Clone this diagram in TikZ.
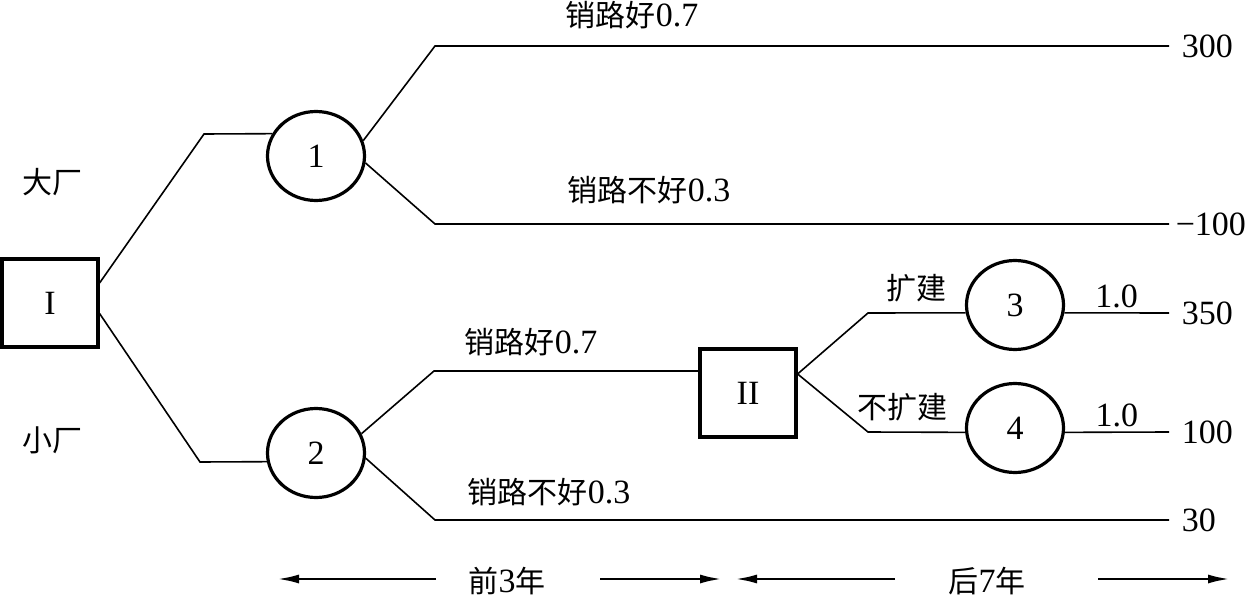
\documentclass[tikz,border=0pt]{standalone}
\usepackage{fontspec}
\setmainfont{Liberation Serif}
\newfontfamily\cjk{Noto Sans CJK SC}
\newcommand{\zh}[1]{{\cjk\fontsize{15}{18}\selectfont #1}}
\usetikzlibrary{
    arrows.meta,
    positioning,
    shapes.geometric
}

\begin{document}
\begin{tikzpicture}[
x=0.5pt, y=-0.5pt,
line width=0.8pt,
font=\fontsize{17}{20}\selectfont,
decision/.style={
draw,
line width=1.6pt,
minimum width=48pt,
minimum height=44pt,
inner sep=0pt
},
chance/.style={
draw,
ellipse,
line width=1.6pt,
minimum width=48.5pt,
minimum height=44.5pt,
inner sep=0pt
},
val/.style={
anchor=west,
inner sep=6pt
},
lbl/.style={
inner sep=2pt
},
span/.style={
-{Latex[length=11pt,width=4.5pt]},
line width=1.3pt
}
]
\useasboundingbox (0,0) rectangle (1254,599);

% decision and chance nodes
\node[decision] (I) at (50,303) {I};
\node[decision] (II) at (748,393) {II};
\node[chance] (n1) at (316,156) {1};
\node[chance] (n2) at (316,453) {2};
\node[chance] (n3) at (1015,305) {3};
\node[chance] (n4) at (1015,428) {4};

% pay-offs
\node[val] (v1) at (1169,46) {300};
\node[val, inner sep=3pt] (v2) at (1169,224) {−100};
\node[val] (v3) at (1169,313) {350};
\node[val] (v4) at (1169,432) {100};
\node[val] (v5) at (1169,520) {30};

% bends
\coordinate (a1) at (204,134);
\coordinate (a2) at (200,462);
\coordinate (b1) at (435,46);
\coordinate (b2) at (435,224);
\coordinate (b3) at (434,371);
\coordinate (b4) at (435,520);
\coordinate (c1) at (868,313);
\coordinate (c2) at (868,432);

\draw (I.22) -- (a1) -- (n1.153);
\draw (I.-12) -- (a2) -- (n2.190);

\draw (n1.18) -- (b1) -- (v1.west);
\draw (n1.-8) -- (b2) -- (v2.west);

\draw (n2.23) -- (b3) -- (b3 -| II.west);
\draw (n2.-6) -- (b4) -- (v5.west);

\draw (II.21) -- (c1) -- node[lbl, above=3pt] {\zh{扩建}} (n3.189);
\draw (II.21) -- (c2) -- node[lbl, above=3pt, pos=0.36] {\zh{不扩建}} (n4.185);

\draw (n3.-9) -- node[lbl, above] {1.0} (v3.west);
\draw (n4.-5) -- node[lbl, above] {1.0} (v4.west);

% branch labels
\node[lbl] (big) at (52,182) {\zh{大厂}};
\node[lbl] (small) at (52,440) {\zh{小厂}};
\node[lbl] (g1) at (632,15) {\zh{销路好}0.7};
\node[lbl] (p1) at (649,190) {\zh{销路不好}0.3};
\node[lbl] (g2) at (531,342) {\zh{销路好}0.7};
\node[lbl] (p2) at (549,492) {\zh{销路不好}0.3};

% time spans
\node (t1) at (507,581) {\zh{前}3\zh{年}};
\node (t2) at (987,581) {\zh{后}7\zh{年}};
\coordinate (s1) at (436,579);
\coordinate (e1) at (277,579);
\coordinate (s2) at (600,579);
\coordinate (e2) at (722,579);
\coordinate (s3) at (895,579);
\coordinate (e3) at (735,579);
\coordinate (s4) at (1098,579);
\coordinate (e4) at (1230,579);
\draw[span] (s1) -- (e1);
\draw[span] (s2) -- (e2);
\draw[span] (s3) -- (e3);
\draw[span] (s4) -- (e4);

\end{tikzpicture}
\end{document}
